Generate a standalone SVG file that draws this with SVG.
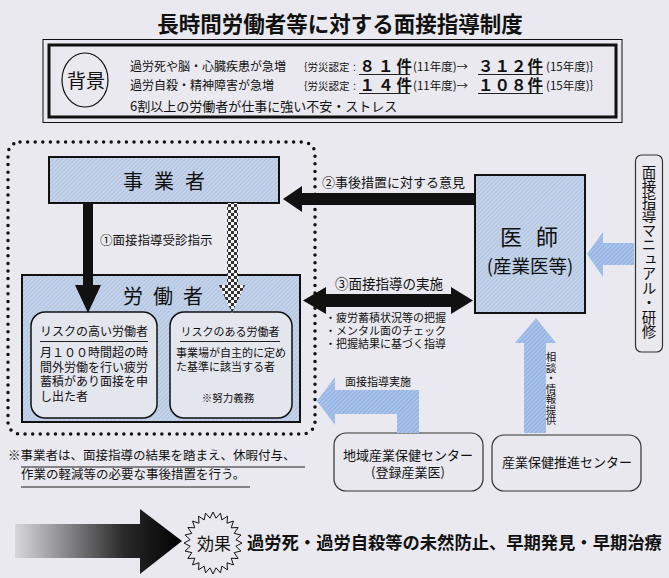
<svg xmlns="http://www.w3.org/2000/svg" width="669" height="578" viewBox="0 0 669 578">
<style>
text{font-family:"Noto Sans CJK JP","Noto Sans CJK SC",sans-serif;fill:#111}
.b{font-weight:bold}
.box{fill:url(#hatch);stroke:#111;stroke-width:2}
.rbox{fill:#e4e6ee;stroke:#111;stroke-width:1.5}
.cbox{fill:#e8e8ee;stroke:#333;stroke-width:1.2}
.blk{fill:#111}
.blue{fill:url(#bhatch)}
.ul{stroke:#222;stroke-width:1.2}
</style>
<defs>
<pattern id="hatch" width="3" height="3" patternUnits="userSpaceOnUse" patternTransform="rotate(45)">
<rect width="3" height="3" fill="#c4d3e9"/><line x1="0" y1="0" x2="0" y2="3" stroke="#9db4d8" stroke-width="1"/>
</pattern>
<pattern id="bhatch" width="3" height="3" patternUnits="userSpaceOnUse" patternTransform="rotate(45)">
<rect width="3" height="3" fill="#a9c3ea"/><line x1="0" y1="0" x2="0" y2="3" stroke="#7a9edb" stroke-width="1.1"/>
</pattern>
<pattern id="checker" width="6" height="6" patternUnits="userSpaceOnUse">
<rect width="6" height="6" fill="#f4f4f4"/><rect width="3" height="3" fill="#333"/><rect x="3" y="3" width="3" height="3" fill="#333"/>
</pattern>
<linearGradient id="fade" x1="15" y1="0" x2="182" y2="0" gradientUnits="userSpaceOnUse">
<stop offset="0" stop-color="#d8d8dc"/><stop offset="0.3" stop-color="#8a8a8e"/><stop offset="0.65" stop-color="#2a2a2a"/><stop offset="1" stop-color="#000"/>
</linearGradient>
</defs>
<rect width="669" height="578" fill="#e9e9ef"/>

<g id="title">
<text x="340" y="32" font-size="21.5" class="b" text-anchor="middle">長時間労働者等に対する面接指導制度</text>
</g>

<g id="background">
<rect x="43" y="39.5" width="579" height="83" fill="none" stroke="#111" stroke-width="1"/>
<rect x="49" y="45" width="567" height="72" fill="none" stroke="#111" stroke-width="3"/>
<ellipse cx="85" cy="80" rx="23" ry="27" fill="none" stroke="#111" stroke-width="1.2"/>
<text x="86" y="88" font-size="19" text-anchor="middle">背景</text>
<text x="130" y="71" font-size="12">過労死や脳・心臓疾患が急増</text>
<text y="71" font-size="10.5"><tspan x="297">｛</tspan><tspan x="307.5">労災認定</tspan><tspan x="350" font-size="9">：</tspan></text>
<text x="359.5" y="72" font-size="15.5" letter-spacing="3" class="b">８１件</text>
<text x="413" y="71" font-size="11.5">(11年度)→</text>
<text x="478" y="72" font-size="15.5" letter-spacing="1" class="b">３１２件</text>
<text x="546" y="71" font-size="11.5">(15年度)｝</text>
<text x="130" y="90" font-size="12">過労自殺・精神障害が急増</text>
<text y="90" font-size="10.5"><tspan x="297">｛</tspan><tspan x="307.5">労災認定</tspan><tspan x="350" font-size="9">：</tspan></text>
<text x="359.5" y="91" font-size="15.5" letter-spacing="3" class="b">１４件</text>
<text x="413" y="90" font-size="11.5">(11年度)→</text>
<text x="478" y="91" font-size="15.5" letter-spacing="1" class="b">１０８件</text>
<text x="546" y="90" font-size="11.5">(15年度)｝</text>
<line class="ul" x1="359" y1="74.5" x2="410" y2="74.5"/>
<line class="ul" x1="478" y1="74.5" x2="543" y2="74.5"/>
<line class="ul" x1="359" y1="93.5" x2="410" y2="93.5"/>
<line class="ul" x1="478" y1="93.5" x2="543" y2="93.5"/>
<text x="130" y="111" font-size="13">6割以上の労働者が仕事に強い不安・ストレス</text>
</g>

<g id="employer-group">
<rect x="8" y="142" width="307" height="292" rx="12" fill="none" stroke="#111" stroke-width="3.5" stroke-linecap="round" stroke-dasharray="0 7.6"/>
</g>

<g id="employer">
<rect class="box" x="49" y="157" width="230" height="46"/>
<text y="189" font-size="20" text-anchor="middle"><tspan x="133">事</tspan><tspan x="164">業</tspan><tspan x="195">者</tspan></text>
</g>

<g id="worker">
<rect class="box" x="22" y="275" width="278" height="147"/>
<text y="304" font-size="20" text-anchor="middle"><tspan x="133">労</tspan><tspan x="163">働</tspan><tspan x="193">者</tspan></text>
</g>

<g id="high-risk">
<rect class="rbox" x="31" y="312" width="126" height="106" rx="14"/>
<text x="94" y="336" font-size="12" text-anchor="middle">リスクの高い労働者</text>
<line x1="40" y1="341.5" x2="148" y2="341.5" stroke="#222" stroke-width="1"/>
<text x="40" font-size="12"><tspan x="40" y="357">月１００時間超の時</tspan><tspan x="40" y="372">間外労働を行い疲労</tspan><tspan x="40" y="386">蓄積があり面接を申</tspan><tspan x="40" y="401">し出た者</tspan></text>
</g>

<g id="some-risk">
<rect class="rbox" x="170" y="312" width="122" height="106" rx="14"/>
<text x="230" y="336" font-size="11" text-anchor="middle">リスクのある労働者</text>
<line x1="180" y1="341.5" x2="280" y2="341.5" stroke="#222" stroke-width="1"/>
<text font-size="11"><tspan x="176" y="357">事業場が自主的に定め</tspan><tspan x="176" y="371">た基準に該当する者</tspan></text>
<text x="228" y="402" font-size="10.5" text-anchor="middle">※努力義務</text>
</g>

<g id="doctor">
<rect class="box" x="475" y="175" width="110" height="138"/>
<text y="245" font-size="22" text-anchor="middle"><tspan x="511">医</tspan><tspan x="547">師</tspan></text>
<text x="530" y="273" font-size="18.5" text-anchor="middle">(産業医等)</text>
</g>

<g id="manual">
<rect x="635.5" y="155" width="27" height="197" rx="6" fill="none" stroke="#333" stroke-width="1.2"/>
<text x="649" y="165" font-size="14.5" writing-mode="vertical-rl">面接指導マニュアル・研修</text>
</g>

<g id="regional-center">
<rect class="cbox" x="334" y="433" width="149" height="58" rx="12"/>
<text x="408" y="460" font-size="13" text-anchor="middle">地域産業保健センター</text>
<text x="408" y="477" font-size="13" text-anchor="middle">(登録産業医)</text>
</g>

<g id="promotion-center">
<rect class="cbox" x="492" y="435" width="149" height="56" rx="12"/>
<text x="567" y="467" font-size="13" text-anchor="middle">産業保健推進センター</text>
</g>

<g id="connectors">
<polygon class="blk" points="83,203 93,203 93,285 101,285 88,313 75,285 83,285"/>
<polygon fill="url(#checker)" points="227,203 238,203 238,285 245,285 232,313 219,285 227,285"/>
<text x="100" y="245" font-size="12.5">①面接指導受診指示</text>
<polygon class="blk" points="283,199 302,186 302,193 475,193 475,205 302,205 302,212"/>
<text x="322" y="187" font-size="13">②事後措置に対する意見</text>
<polygon class="blk" points="303,300.5 326,287 326,294 451,294 451,287 473,300.5 451,314 451,307 326,307 326,314"/>
<text x="335" y="289" font-size="13.5">③面接指導の実施</text>
<text font-size="11"><tspan x="325" y="322">・疲労蓄積状況等の把握</tspan><tspan x="325" y="335">・メンタル面のチェック</tspan><tspan x="325" y="348">・把握結果に基づく指導</tspan></text>
<polygon class="blue" points="317,401 335,377 335,390 419,390 419,433 397,433 397,414 335,414 335,425"/>
<text x="345" y="386" font-size="11">面接指導実施</text>
<polygon class="blue" points="536,318 556,343 546,343 546,433 524,433 524,343 515,343"/>
<text x="551" y="352" font-size="10.5" writing-mode="vertical-rl">相談・情報提供</text>
<polygon class="blue" points="587,254 603,232 603,243 634,243 634,265 603,265 603,277"/>
</g>

<g id="note">
<text x="8" y="460" font-size="12.5">※事業者は、面接指導の結果を踏まえ、休暇付与、</text>
<text x="21" y="479" font-size="12.5">作業の軽減等の必要な事後措置を行う。</text>
<line class="ul" x1="21" y1="467" x2="305" y2="467"/>
<line class="ul" x1="21" y1="487" x2="250" y2="487"/>
</g>

<g id="effect">
<polygon fill="url(#fade)" points="15,524 140,524 140,509 182,541 140,574 140,558 15,558"/>
<polygon transform="translate(213,543)" fill="#e9e9ef" stroke="#111" stroke-width="1" points="29,0 22.8,3.3 28,8 21.2,9.6 25.1,15.5 18.2,15.2 20.5,21.9 14,19.8 14.5,26.8 8.8,23.1 7.5,29.9 3,24.8 0,31 -3,24.8 -7.5,29.9 -8.8,23.1 -14.5,26.8 -14,19.8 -20.5,21.9 -18.2,15.2 -25.1,15.5 -21.2,9.6 -28,8 -22.8,3.3 -29,0 -22.8,-3.3 -28,-8 -21.2,-9.6 -25.1,-15.5 -18.2,-15.2 -20.5,-21.9 -14,-19.8 -14.5,-26.8 -8.8,-23.1 -7.5,-29.9 -3,-24.8 0,-31 3,-24.8 7.5,-29.9 8.8,-23.1 14.5,-26.8 14,-19.8 20.5,-21.9 18.2,-15.2 25.1,-15.5 21.2,-9.6 28,-8 22.8,-3.3"/>
<text x="214" y="550" font-size="17" text-anchor="middle">効果</text>
<text x="247" y="549" font-size="17.3" class="b">過労死・過労自殺等の未然防止、早期発見・早期治療</text>
</g>
</svg>
